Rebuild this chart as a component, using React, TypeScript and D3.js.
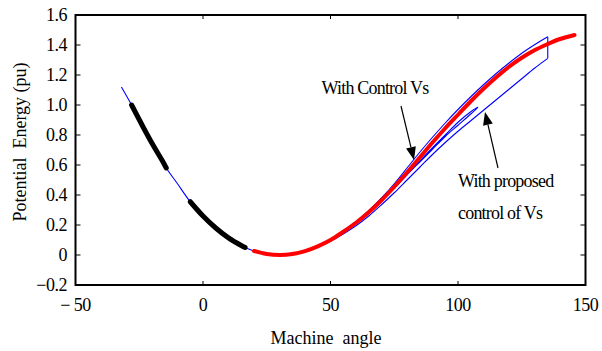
import React from "react";
import * as d3 from "d3";

// ---- data ----
const xTicks = [-50, 0, 50, 100, 150];
const yTicks = [-0.2, 0, 0.2, 0.4, 0.6, 0.8, 1.0, 1.2, 1.4, 1.6];
const yTickLabels = ["\u22120.2", "0", "0.2", "0.4", "0.6", "0.8", "1.0", "1.2", "1.4", "1.6"];
const xTickLabels = ["\u2212 50", "0", "50", "100", "150"];

// blue: descending branch from start to the minimum
const blueDescX = [-32, -28, -24, -20, -16, -14.4, -10, -5, 0, 5, 10, 15, 16.5, 20, 25, 30];
const blueDescY = [1.12, 1.0, 0.87, 0.745, 0.63, 0.58, 0.475, 0.355, 0.26, 0.18, 0.114, 0.063, 0.05, 0.027, 0.007, 0];

// blue: first rise (upper edge) to the turning point
const blueUpX = [30, 35, 40, 45, 50, 55, 60, 65, 70, 75, 80, 85, 90, 95, 100, 105, 110, 115, 120, 125, 130, 135.2];
const blueUpY = [0, 0.007, 0.028, 0.062, 0.105, 0.16, 0.222, 0.295, 0.38, 0.475, 0.58, 0.685, 0.785, 0.88, 0.97, 1.055, 1.135, 1.21, 1.28, 1.345, 1.402, 1.455];

// blue: drop and return (lower edge)
const blueDownX = [135.2, 135.2, 130, 125, 120, 115, 110, 105, 100, 95, 90, 85, 80, 75, 70, 65, 60, 55, 50, 45, 40];
const blueDownY = [1.455, 1.311, 1.245, 1.175, 1.105, 1.035, 0.965, 0.895, 0.825, 0.75, 0.67, 0.585, 0.5, 0.415, 0.335, 0.26, 0.195, 0.14, 0.092, 0.054, 0.028];

// blue: inner loop
const blueInnerX = [40, 45, 50, 55, 60, 65, 70, 75, 80, 85, 90, 95, 100, 105, 107.8, 105, 100, 95, 90, 85, 80];
const blueInnerY = [0.028, 0.06, 0.1, 0.152, 0.212, 0.28, 0.36, 0.445, 0.535, 0.625, 0.715, 0.8, 0.885, 0.955, 0.985, 0.94, 0.865, 0.79, 0.705, 0.62, 0.535];

// black thick segments
const black1X = [-28, -24, -20, -16, -14.4];
const black1Y = [1.0, 0.87, 0.745, 0.63, 0.58];
const black2X = [-5, 0, 5, 10, 15, 16.5];
const black2Y = [0.355, 0.26, 0.18, 0.114, 0.063, 0.05];

// red: with control Vs
const redX = [20, 25, 30, 35, 40, 45, 50, 55, 60, 65, 70, 75, 80, 85, 90, 95, 100, 105, 110, 115, 120, 125, 130, 135, 140, 145.7];
const redY = [0.027, 0.007, 0, 0.006, 0.026, 0.058, 0.1, 0.155, 0.215, 0.285, 0.365, 0.455, 0.55, 0.65, 0.75, 0.845, 0.935, 1.025, 1.108, 1.185, 1.255, 1.315, 1.365, 1.405, 1.44, 1.467];

const W = 602;
const H = 351;
const L = 75.5, R = 585.5, T = 15, B = 285;

const x = d3.scaleLinear().domain([-50, 150]).range([L, R]);
const y = d3.scaleLinear().domain([-0.2, 1.6]).range([B, T]);

const pts = (xs: number[], ys: number[]) => xs.map((v, i) => [v, ys[i]] as [number, number]);
const line = d3
  .line<[number, number]>()
  .x((d) => x(d[0]))
  .y((d) => y(d[1]))
  .curve(d3.curveCatmullRom.alpha(0.5));
const lineLin = d3
  .line<[number, number]>()
  .x((d) => x(d[0]))
  .y((d) => y(d[1]))
  .curve(d3.curveLinear);

const font = '"Liberation Serif", "Times New Roman", Times, "DejaVu Serif", serif';
const ts: React.CSSProperties = { fontFamily: font };

function Arrow({ x1, y1, x2, y2 }: { x1: number; y1: number; x2: number; y2: number }) {
  const ang = Math.atan2(y2 - y1, x2 - x1);
  const len = 13, half = 5;
  const bx = x2 - len * Math.cos(ang), by = y2 - len * Math.sin(ang);
  const px = -Math.sin(ang) * half, py = Math.cos(ang) * half;
  return (
    <g>
      <line x1={x1} y1={y1} x2={bx} y2={by} stroke="#000" strokeWidth={1.2} />
      <polygon points={`${x2},${y2} ${bx + px},${by + py} ${bx - px},${by - py}`} fill="#000" />
    </g>
  );
}

export default function App() {
  const blueMain = [...pts(blueDescX, blueDescY), ...pts(blueUpX, blueUpY).slice(1)];
  return (
    <svg width={W} height={H} style={{ position: "absolute", left: 0, top: 0, background: "#fff" }}>
      <rect x={0} y={0} width={W} height={H} fill="#fff" />
      {/* ticks */}
      {yTicks.map((t) => (
        <g key={"y" + t}>
          <line x1={L} x2={L + 5} y1={y(t)} y2={y(t)} stroke="#000" strokeWidth={1} />
          <line x1={R - 5} x2={R} y1={y(t)} y2={y(t)} stroke="#000" strokeWidth={1} />
        </g>
      ))}
      {xTicks.map((t) => (
        <g key={"x" + t}>
          <line x1={x(t)} x2={x(t)} y1={B} y2={B - 4} stroke="#000" strokeWidth={1} />
          <line x1={x(t)} x2={x(t)} y1={T} y2={T + 4} stroke="#000" strokeWidth={1} />
        </g>
      ))}
      {/* curves */}
      <path d={line(blueMain) || ""} fill="none" stroke="#0000ff" strokeWidth={1.1} />
      <path d={lineLin(pts(blueDownX, blueDownY).slice(0, 2)) || ""} fill="none" stroke="#0000ff" strokeWidth={1.1} />
      <path d={line(pts(blueDownX, blueDownY).slice(1)) || ""} fill="none" stroke="#0000ff" strokeWidth={1.1} />
      <path d={line(pts(blueInnerX, blueInnerY)) || ""} fill="none" stroke="#0000ff" strokeWidth={1.1} />
      <path d={line(pts(redX, redY)) || ""} fill="none" stroke="#ff0000" strokeWidth={4} strokeLinecap="round" />
      <path d={line(pts(black1X, black1Y)) || ""} fill="none" stroke="#000" strokeWidth={5} strokeLinecap="round" />
      <path d={line(pts(black2X, black2Y)) || ""} fill="none" stroke="#000" strokeWidth={5} strokeLinecap="round" />
      {/* frame */}
      <rect x={L} y={T} width={R - L} height={B - T} fill="none" stroke="#000" strokeWidth={2} />
      {/* tick labels */}
      {yTicks.map((t, i) => (
        <text key={"yl" + t} x={67} y={y(t)} dy="0.35em" textAnchor="end" fontSize={18} fill="#000" letterSpacing={-0.5} style={ts}>
          {yTickLabels[i]}
        </text>
      ))}
      {xTicks.map((t, i) => (
        <text key={"xl" + t} x={x(t)} y={311} textAnchor="middle" fontSize={18} fill="#000" letterSpacing={-0.5} style={ts}>
          {xTickLabels[i]}
        </text>
      ))}
      {/* axis titles */}
      <text x={326} y={344} textAnchor="middle" fontSize={18} fill="#000" style={{ ...ts, whiteSpace: "pre" }}>
        {"Machine  angle"}
      </text>
      <text transform="translate(26,142) rotate(-90)" textAnchor="middle" fontSize={18} fill="#000" style={{ ...ts, whiteSpace: "pre" }}>
        {"Potential  Energy (pu)"}
      </text>
      {/* annotations */}
      <text x={375} y={94} textAnchor="middle" fontSize={18} fill="#000" letterSpacing={-0.8} style={ts}>With Control Vs</text>
      <Arrow x1={401} y1={106} x2={414} y2={160} />
      <text x={458} y={187} fontSize={18} fill="#000" letterSpacing={-0.8} style={ts}>With proposed</text>
      <text x={458} y={219} fontSize={18} fill="#000" letterSpacing={-0.8} style={ts}>control of Vs</text>
      <Arrow x1={498} y1={168} x2={485} y2={112} />
    </svg>
  );
}
